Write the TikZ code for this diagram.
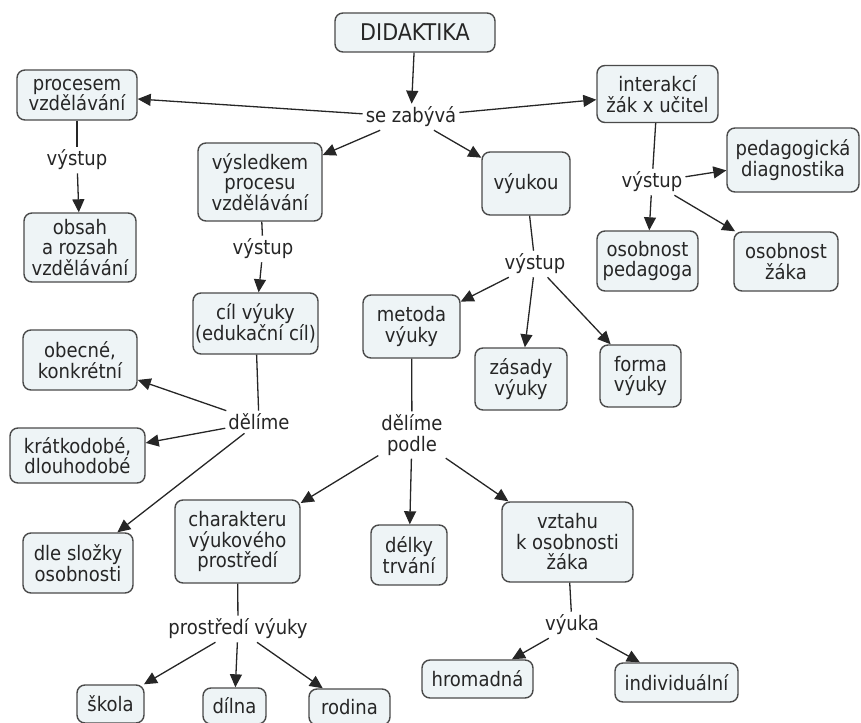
\documentclass[tikz,border=0pt]{standalone}
\usepackage{fontspec}
\setmainfont{DejaVu Sans Condensed}
\usetikzlibrary{arrows.meta}
\definecolor{boxfill}{HTML}{EEF4F6}
\definecolor{boxline}{HTML}{4A4A4A}
\definecolor{ink}{HTML}{262626}
\begin{document}
\begin{tikzpicture}[x=1pt,y=-1pt,
  concept/.style={draw=boxline, fill=boxfill, line width=1.4pt, rounded corners=8pt,
    align=center, inner sep=2pt, font=\fontsize{20}{20.5}\selectfont, text=ink},
  link/.style={align=center, inner sep=3pt, font=\fontsize{20}{20.5}\selectfont, text=ink},
  conn/.style={draw=ink, line width=1.3pt},
  arr/.style={conn, -{Triangle[length=13pt,width=12pt]}},
]
\useasboundingbox (0,0) rectangle (861,722);

% concepts
\node[concept, minimum width=160pt, minimum height=39pt, font=\fontsize{23}{24}\selectfont] (did) at (415,32.5) {DIDAKTIKA};
\node[concept, minimum width=120pt, minimum height=50pt] (proc) at (77,95) {procesem\\vzdělávání};
\node[concept, minimum width=121pt, minimum height=57pt] (inter) at (657.5,94) {interakcí\\žák x učitel};
\node[concept, minimum width=132pt, minimum height=64pt] (ped) at (793,160) {pedagogická\\diagnostika};
\node[concept, minimum width=124pt, minimum height=78pt] (vysl) at (260,182) {výsledkem\\procesu\\vzdělávání};
\node[concept, minimum width=88pt, minimum height=63pt] (vyukou) at (526,183.5) {výukou};
\node[concept, minimum width=112pt, minimum height=69pt] (obsah) at (80,247.5) {obsah\\a rozsah\\vzdělávání};
\node[concept, minimum width=101pt, minimum height=60pt] (osped) at (647.5,261) {osobnost\\pedagoga};
\node[concept, minimum width=104pt, minimum height=59pt] (oszak) at (786,261.5) {osobnost\\žáka};
\node[concept, minimum width=125pt, minimum height=61pt] (cil) at (255.5,323.5) {cíl výuky\\(edukační cíl)};
\node[concept, minimum width=97pt, minimum height=63pt] (metoda) at (411.5,326.5) {metoda\\výuky};
\node[concept, minimum width=92pt, minimum height=62pt] (zasady) at (521,379) {zásady\\výuky};
\node[concept, minimum width=81pt, minimum height=62pt] (forma) at (640.5,376) {forma\\výuky};
\node[concept, minimum width=114pt, minimum height=60pt] (obecne) at (80,360) {obecné,\\konkrétní};
\node[concept, minimum width=135pt, minimum height=55pt] (kratk) at (77.5,455.5) {krátkodobé,\\dlouhodobé};
\node[concept, minimum width=110pt, minimum height=60pt] (slozky) at (78,563) {dle složky\\osobnosti};
\node[concept, minimum width=125pt, minimum height=83pt] (char) at (237.5,541.5) {charakteru\\výukového\\prostředí};
\node[concept, minimum width=76pt, minimum height=60pt] (delky) at (409,555) {délky\\trvání};
\node[concept, minimum width=131pt, minimum height=80pt] (vztahu) at (567.5,542) {vztahu\\k osobnosti\\žáka};
\node[concept, minimum width=67pt, minimum height=38pt] (skola) at (110.5,704) {škola};
\node[concept, minimum width=63pt, minimum height=36pt] (dilna) at (234.5,706) {dílna};
\node[concept, minimum width=81pt, minimum height=36pt] (rodina) at (349.5,707) {rodina};
\node[concept, minimum width=111pt, minimum height=38pt] (hrom) at (477.5,679) {hromadná};
\node[concept, minimum width=123pt, minimum height=39pt] (indiv) at (676.5,682.5) {individuální};

% linking phrases
\node[link] (sezab) at (411,117) {se zabývá};
\node[link] (vyst1) at (77,160) {výstup};
\node[link] (vyst2) at (263,249) {výstup};
\node[link] (vyst3) at (535,264) {výstup};
\node[link] (vyst4) at (652,182) {výstup};
\node[link] (delime) at (259,422) {dělíme};
\node[link] (delpod) at (412,435) {dělíme\\podle};
\node[link] (prostr) at (238,629) {prostředí výuky};
\node[link] (vyuka) at (572,625) {výuka};

% connectors
\draw[arr] (did) -- (sezab);
\draw[arr] (sezab) -- (proc);
\draw[arr] (sezab) -- (inter);
\draw[arr] (sezab) -- (vysl);
\draw[arr] (sezab) -- (vyukou);

\draw[conn] (proc) -- (vyst1);
\draw[arr] (vyst1) -- (obsah);

\draw[conn] (vysl) -- (vyst2);
\draw[arr] (vyst2) -- (cil);

\draw[conn] (vyukou) -- (vyst3);
\draw[arr] (vyst3) -- (metoda);
\draw[arr] (vyst3) -- (zasady);
\draw[arr] (vyst3) -- (forma);

\draw[conn] (inter) -- (vyst4);
\draw[arr] (vyst4) -- (ped);
\draw[arr] (vyst4) -- (osped);
\draw[arr] (vyst4) -- (oszak);

\draw[conn] (cil) -- (delime);
\draw[arr] (delime) -- (obecne);
\draw[arr] (delime) -- (kratk);
\draw[arr] (delime) -- (slozky);

\draw[conn] (metoda) -- (delpod);
\draw[arr] (delpod) -- (char);
\draw[arr] (delpod) -- (delky);
\draw[arr] (delpod) -- (vztahu);

\draw[conn] (char) -- (prostr);
\draw[arr] (prostr) -- (skola);
\draw[arr] (prostr) -- (dilna);
\draw[arr] (prostr) -- (rodina);

\draw[conn] (vztahu) -- (vyuka);
\draw[arr] (vyuka) -- (hrom);
\draw[arr] (vyuka) -- (indiv);
\end{tikzpicture}
\end{document}
